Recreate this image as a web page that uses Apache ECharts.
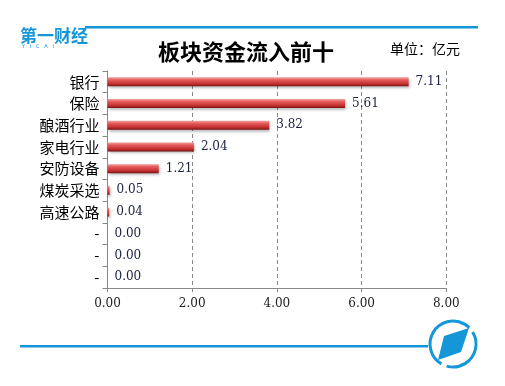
<!DOCTYPE html>
<html><head><meta charset="utf-8">
<script src="https://cdn.jsdelivr.net/npm/echarts@6/dist/echarts.min.js"></script>
<style>html,body{margin:0;padding:0;background:#fff}#c{width:505px;height:386px}</style>
</head><body><div id="c"></div>
<script>
var categories = ['银行','保险','酿酒行业','家电行业','安防设备','煤炭采选','高速公路','-','-','-'];
var values = [7.11, 5.61, 3.82, 2.04, 1.21, 0.05, 0.04, 0.00, 0.00, 0.00];
var xTicks = [0, 2, 4, 6, 8];
var title = '板块资金流入前十';
var unitText = '单位：亿元';

var blue = '#1496d8';
var chart = echarts.init(document.getElementById('c'), null, {renderer:'canvas'});
chart.setOption({
  animation: false,
  backgroundColor: '#fff',
  grid: {left: 107.5, right: 58.7, top: 71, bottom: 98},
  xAxis: {
    type: 'value', min: xTicks[0], max: xTicks[xTicks.length-1], interval: 2,
    axisLine: {show: true, lineStyle: {color: '#888', width: 1}},
    axisTick: {show: true, length: 4, lineStyle: {color: '#888'}},
    splitLine: {show: true, lineStyle: {color: '#888', type: [4,3], width: 1}},
    axisLabel: {formatter: function(v){return v.toFixed(2);}, color: '#222', fontFamily: 'DejaVu Serif', fontSize: 12, margin: 10}
  },
  yAxis: {
    type: 'category', data: categories, inverse: true,
    axisLine: {show: true, lineStyle: {color: '#888', width: 1}},
    axisTick: {show: true, length: 5, lineStyle: {color: '#888'}},
    axisLabel: {color: '#000', fontFamily: 'Noto Sans CJK SC', fontSize: 15, margin: 8}
  },
  series: [{
    type: 'bar', data: values, barWidth: 9,
    itemStyle: {
      color: new echarts.graphic.LinearGradient(0,0,0,1,[
        {offset:0, color:'#f4a0a0'},
        {offset:0.3, color:'#e45a5a'},
        {offset:0.7, color:'#c83232'},
        {offset:1, color:'#7a1414'}
      ]),
      shadowColor: 'rgba(0,0,0,0.35)', shadowBlur: 3, shadowOffsetX: 1, shadowOffsetY: 2
    },
    label: {show: true, position: 'right', distance: 7, formatter: function(p){return p.value.toFixed(2);},
      color: '#1a2040', fontFamily: 'DejaVu Serif', fontSize: 12}
  }],
  graphic: [
    {type:'rect', shape:{x:85, y:26, width:393, height:2.5}, style:{fill: blue}},
    {type:'text', left: 20, top: 27, style:{text:'第一财经', fill: blue, font:'bold 17px "Noto Sans CJK SC"'}},
    {type:'text', left: 22, top: 44, style:{text:'Y   I   C   A   I', fill: blue, font:'5px "DejaVu Sans"'}},
    {type:'text', x: 246, y: 52, style:{text:title, fill:'#000', font:'bold 22px "Noto Sans CJK SC"', align:'center', verticalAlign:'middle'}},
    {type:'text', x: 390, y: 49, style:{text:unitText, fill:'#000', font:'14px "Noto Sans CJK SC"', align:'left', verticalAlign:'middle'}},
    {type:'rect', shape:{x:20, y:345, width:408, height:2.5}, style:{fill: blue}},
    {type:'arc', shape:{cx:453, cy:344, r:23, startAngle: -0.55, endAngle: 1.85}, style:{stroke: blue, lineWidth: 3, fill: null}},
    {type:'arc', shape:{cx:453, cy:344, r:23, startAngle: 2.1, endAngle: 5.5}, style:{stroke: blue, lineWidth: 3, fill: null}},
    {type:'polygon', shape:{points:[[444,336],[469,328],[461,352],[438,360]]}, style:{fill: blue}}
  ]
});
</script></body></html>
